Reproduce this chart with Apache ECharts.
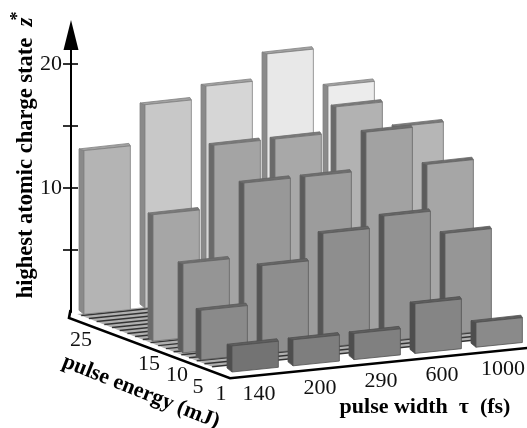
<!DOCTYPE html>
<html><head><meta charset="utf-8">
<style>html,body{margin:0;padding:0;background:#fff}#c{width:527px;height:428px}</style>
<script src="https://cdn.jsdelivr.net/npm/echarts@6/dist/echarts.min.js"></script>
</head><body><div id="c"></div>
<script>
// ---- data ----
const pulseWidths = ['140','200','290','600','1000'];
const pulseEnergies = ['1','5','10','15','25'];
const z1mJ  = [2.1, 2.1, 2.1, 4.0, 2.0];
const z5mJ  = [4.0, 7.1, 9.2, 10.1, 8.2];
const z10mJ = [7.2, 13.2, 13.2, 16.3, 13.2];
const z15mJ = [10.2, 15.3, 15.3, 17.4, 15.3];
const z25mJ = [13.2, 16.4, 17.4, 19.5, 16.4];
const zRows = [z1mJ, z5mJ, z10mJ, z15mJ, z25mJ];
const zTicks = [5, 10, 15, 20];
const zLabels = [10, 20];

// ---- layout / style of the oblique projection ----
const rowDepth = [0, 31, 49, 79, 148];       // px along the receding floor edge
const riseX = 6.2, riseDepth = 0.39, faceW = 0.76;
const energyLabelShift = [[-11,22],[-3,27],[-6,22],[-4,23],[-3,26]];
const serif = '"Liberation Serif","Times New Roman",serif';
const faceGray = [
  ['#737373','#7e7e7e','#808080','#858585','#8a8a8a'],
  ['#8a8a8a','#8e8e8e','#8e8e8e','#929292','#969696'],
  ['#959595','#989898','#9c9c9c','#a2a2a2','#a6a6a6'],
  ['#a6a6a6','#a4a4a4','#a8a8a8','#b2b2b2','#b6b6b6'],
  ['#b4b4b4','#c8c8c8','#d6d6d6','#e8e8e8','#ececec']
];
const sideGray = ['#4e4e4e','#555555','#5c5c5c','#6a6a6a','#8a8a8a'];
const topGray  = ['#5e5e5e','#666666','#6e6e6e','#7a7a7a','#a2a2a2'];
const edgeGray = ['#505050','#5a5a5a','#666666','#707070','#808080'];

const barData = [];
for (let j = zRows.length - 1; j >= 0; j--) {
  zRows[j].forEach((v, i) => barData.push([i, j, v]));
}

function projector(api) {
  return function (i, depth, z) {
    const p = api.coord([i, z]);
    return [p[0] - depth, p[1] - riseX * i - riseDepth * depth];
  };
}
const plus = (p, dx, dy) => [p[0] + dx, p[1] + dy];

function renderBar(params, api) {
  const i = api.value(0), j = api.value(1), z = api.value(2);
  const P = projector(api), d = rowDepth[j];
  const fl0 = P(i, d, 0), fr0 = P(i + faceW, d, 0);
  const fl = P(i, d, z), fr = P(i + faceW, d, z);
  const edge = { stroke: edgeGray[j], lineWidth: 0.8, lineJoin: 'round' };
  return { type: 'group', children: [
    { type: 'polygon', shape: { points: [plus(fl0, -5, -4), fl0, fl, plus(fl, -5, -1.7)] },
      style: Object.assign({ fill: sideGray[j] }, edge) },
    { type: 'polygon', shape: { points: [fl, fr, plus(fr, -1.5, -2.5), plus(fl, -5, -1.7)] },
      style: Object.assign({ fill: topGray[j] }, edge) },
    { type: 'polygon', shape: { points: [fl0, fr0, fr, fl] },
      style: Object.assign({ fill: faceGray[j][i] }, edge) }
  ]};
}

function renderFloor(params, api) {
  const P = projector(api), kids = [];
  const dNear = 15, dFar = 150, step = 7.7, iL = -0.08;
  kids.push({ type: 'polygon', shape: { points: [P(iL, dNear, 0), P(4 + faceW, dNear, 0), P(4 + faceW, dFar, 0), P(iL, dFar, 0)] },
    style: { fill: '#b0b0b0' } });
  for (let d = dNear; d <= dFar; d += step) {
    const a = P(iL, d, 0), b = P(4 + faceW, d, 0);
    kids.push({ type: 'line', shape: { x1: a[0], y1: a[1], x2: b[0], y2: b[1] },
      style: { stroke: '#333333', lineWidth: 1.5 } });
  }
  return { type: 'group', children: kids };
}

function renderFrame(params, api) {
  const P = projector(api);
  const corner = plus(P(0, 163, 0), 0, 9.6), front = plus(P(0, 2, 0), 0, 7), end = plus(P(4.9, 2, 0), 0, 7);
  return { type: 'polyline', shape: { points: [[corner[0] + 1.5, corner[1] - 8], corner, front, end] },
    style: { fill: null, stroke: '#000', lineWidth: 2.6, lineJoin: 'miter' } };
}

function renderTickLabels(params, api) {
  const P = projector(api), kids = [];
  const font = '22px ' + serif;
  pulseWidths.forEach((t, i) => {
    const p = plus(P(i, 0, 0), 27, 22);
    kids.push({ type: 'text', style: { text: t, x: p[0], y: p[1], font, fill: '#111', align: 'center', verticalAlign: 'middle' } });
  });
  pulseEnergies.forEach((t, j) => {
    const s = energyLabelShift[j];
    const p = plus(P(0, rowDepth[j], 0), s[0], s[1]);
    kids.push({ type: 'text', style: { text: t, x: p[0], y: p[1], font, fill: '#111', align: 'center', verticalAlign: 'middle' } });
  });
  return { type: 'group', children: kids };
}

const chart = echarts.init(document.getElementById('c'), null, { renderer: 'canvas', width: 527, height: 428 });
const markAxes = { xAxisIndex: 1, yAxisIndex: 2, coordinateSystem: 'cartesian2d' };
chart.setOption({
  animation: false,
  backgroundColor: '#fff',
  grid: [
    { left: 71, top: 35, width: 10, height: 277, outerBoundsMode: 'none' },
    { left: 232, top: 0, width: 244, height: 372, outerBoundsMode: 'none' }
  ],
  xAxis: [
    { gridIndex: 0, type: 'value', show: false, min: 0, max: 1 },
    { gridIndex: 1, type: 'value', show: false, min: 0, max: 4 }
  ],
  yAxis: [
    { gridIndex: 0, type: 'value', min: 0, max: 22.34, interval: 5, position: 'left', splitLine: { show: false },
      axisLine: { show: true, symbol: ['none', 'triangle'], symbolSize: [15, 30], lineStyle: { color: '#000', width: 2 } },
      axisTick: { show: true, length: 8, customValues: zTicks, lineStyle: { color: '#000', width: 1.6 } },
      axisLabel: { show: true, customValues: zLabels, margin: 9, fontFamily: serif, fontSize: 22, color: '#111' } },
    { gridIndex: 0, type: 'value', min: 0, max: 22.34, interval: 5, position: 'left', splitLine: { show: false },
      axisLine: { show: false },
      axisTick: { show: true, inside: true, length: 7, customValues: zTicks, lineStyle: { color: '#000', width: 1.6 } },
      axisLabel: { show: false } },
    { gridIndex: 1, type: 'value', show: false, min: 0, max: 30 }
  ],
  series: [
    Object.assign({ type: 'custom', name: 'floor', renderItem: renderFloor, data: [[0, 0, 0]], silent: true, z: 1 }, markAxes),
    Object.assign({ type: 'custom', name: 'charge state', renderItem: renderBar, data: barData, encode: { x: 0, y: 2 }, silent: true, z: 2 }, markAxes),
    Object.assign({ type: 'custom', name: 'frame', renderItem: renderFrame, data: [[0, 0, 0]], silent: true, z: 3 }, markAxes),
    Object.assign({ type: 'custom', name: 'labels', renderItem: renderTickLabels, data: [[0, 0, 0]], silent: true, z: 3 }, markAxes)
  ],
  graphic: [
    { type: 'text', x: 425, y: 407, style: { text: 'pulse width  τ  (fs)', font: 'bold 22px ' + serif, fill: '#000', align: 'center', verticalAlign: 'middle' } },
    { type: 'text', x: 141, y: 392, rotation: -0.38, style: { text: 'pulse energy (mJ)', font: 'bold 22px ' + serif, fill: '#000', align: 'center', verticalAlign: 'middle' } },
    { type: 'text', x: 26, y: 168, rotation: Math.PI / 2, style: { text: 'highest atomic charge state', font: 'bold 22.5px ' + serif, fill: '#000', align: 'center', verticalAlign: 'middle' } },
    { type: 'text', x: 26, y: 22, rotation: Math.PI / 2, style: { text: 'z', font: 'italic bold 23px ' + serif, fill: '#000', align: 'center', verticalAlign: 'middle' } },
    { type: 'text', x: 18, y: 16, rotation: Math.PI / 2, style: { text: '*', font: 'bold 18px ' + serif, fill: '#000', align: 'center', verticalAlign: 'middle' } }
  ]
});
</script></body></html>
